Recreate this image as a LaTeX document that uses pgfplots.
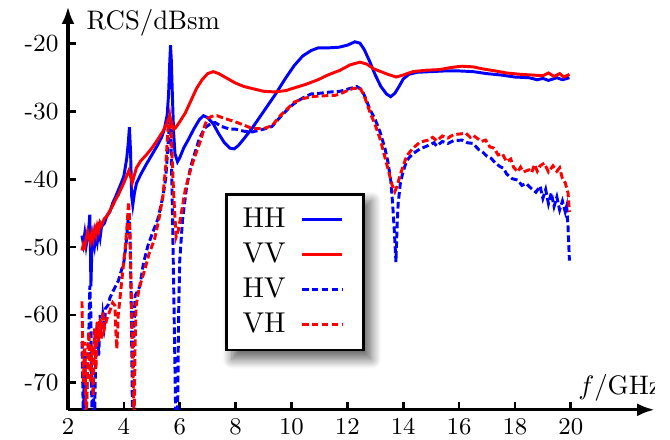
\documentclass[border=0pt]{standalone}
\usepackage{pgfplots}
\pgfplotsset{compat=1.18}
\usetikzlibrary{arrows.meta,shadows.blur}
\pgfdeclarelayer{background}
\pgfsetlayers{background,main}

\pgfplotstableread{
f rcs
2.50 -48.3
2.55 -49.5
2.60 -48.0
2.65 -49.8
2.70 -48.5
2.75 -47.0
2.78 -45.2
2.80 -49.0
2.82 -55.8
2.85 -51.0
2.90 -48.5
2.95 -49.8
3.00 -48.0
3.05 -49.2
3.10 -47.5
3.15 -48.6
3.20 -47.0
3.30 -46.5
3.40 -45.3
3.50 -44.8
3.60 -43.5
3.70 -42.6
3.80 -41.6
3.90 -40.6
4.00 -39.5
4.10 -37.0
4.15 -35.0
4.20 -32.3
4.24 -36.0
4.28 -42.5
4.32 -43.8
4.38 -42.0
4.45 -40.6
4.60 -39.3
4.80 -37.8
5.00 -36.4
5.20 -35.0
5.35 -33.8
5.45 -32.6
5.55 -30.5
5.60 -27.5
5.64 -23.0
5.67 -20.2
5.70 -22.5
5.74 -28.0
5.78 -33.0
5.83 -36.2
5.92 -37.4
6.00 -36.8
6.15 -35.3
6.30 -34.2
6.50 -32.6
6.70 -31.2
6.85 -30.6
7.00 -30.9
7.20 -31.8
7.40 -33.3
7.60 -34.6
7.80 -35.4
7.95 -35.5
8.10 -35.0
8.30 -34.0
8.60 -32.4
9.00 -30.0
9.40 -27.6
9.80 -25.0
10.10 -23.2
10.40 -21.8
10.70 -21.0
10.95 -20.6
11.30 -20.6
11.70 -20.5
12.00 -20.2
12.27 -19.7
12.45 -19.9
12.60 -20.8
12.80 -22.6
13.00 -24.6
13.20 -26.3
13.40 -27.4
13.55 -27.8
13.70 -27.3
13.85 -26.3
14.00 -25.2
14.20 -24.5
14.50 -24.2
15.00 -24.1
15.50 -24.0
16.00 -24.0
16.50 -24.1
17.00 -24.4
17.50 -24.6
18.00 -24.9
18.50 -25.0
18.80 -25.3
19.00 -25.1
19.20 -25.4
19.50 -25.0
19.70 -25.3
19.95 -25.0
}\hh

\pgfplotstableread{
f rcs
2.50 -50.5
2.55 -49.6
2.60 -50.0
2.65 -48.8
2.70 -47.7
2.75 -48.5
2.80 -49.2
2.85 -48.0
2.90 -48.8
2.95 -47.4
3.00 -48.2
3.05 -46.9
3.10 -47.6
3.15 -46.4
3.20 -46.8
3.30 -45.8
3.40 -45.4
3.50 -44.6
3.60 -43.9
3.70 -43.0
3.80 -42.3
3.90 -41.4
4.00 -40.5
4.10 -39.5
4.18 -38.7
4.24 -39.5
4.30 -40.5
4.36 -39.6
4.45 -38.3
4.60 -37.3
4.80 -36.4
5.00 -35.4
5.20 -34.2
5.40 -32.9
5.55 -31.6
5.64 -30.7
5.70 -31.5
5.78 -32.6
5.85 -32.4
6.00 -31.5
6.20 -30.2
6.40 -28.4
6.60 -26.6
6.80 -25.3
7.00 -24.4
7.20 -24.1
7.40 -24.4
7.70 -25.1
8.00 -25.8
8.30 -26.3
8.60 -26.6
9.00 -27.0
9.40 -27.1
9.80 -26.9
10.10 -26.5
10.50 -26.0
10.95 -25.3
11.30 -24.6
11.74 -23.9
12.10 -23.1
12.45 -22.7
12.70 -23.0
12.95 -23.7
13.20 -24.1
13.45 -24.5
13.75 -24.9
14.00 -24.6
14.35 -24.1
14.80 -23.9
15.30 -23.8
15.70 -23.5
16.10 -23.3
16.50 -23.4
16.85 -23.7
17.30 -24.0
17.70 -24.3
18.20 -24.5
18.60 -24.6
19.00 -24.7
19.20 -24.3
19.40 -24.8
19.60 -24.4
19.75 -24.9
19.95 -24.5
}\vv

\pgfplotstableread{
f rcs
2.50 -64.0
2.55 -75.0
2.60 -66.0
2.65 -76.0
2.70 -68.0
2.75 -62.0
2.78 -55.7
2.82 -60.0
2.86 -76.0
2.90 -70.0
2.95 -76.0
3.00 -64.0
3.05 -61.0
3.10 -66.0
3.15 -60.0
3.20 -63.0
3.25 -60.0
3.30 -61.5
3.35 -59.0
3.43 -58.6
3.50 -57.5
3.60 -56.6
3.70 -55.8
3.80 -55.0
3.90 -53.6
4.00 -52.2
4.08 -49.5
4.15 -46.0
4.19 -45.0
4.23 -50.0
4.27 -60.0
4.31 -76.0
4.36 -62.0
4.40 -57.2
4.50 -56.4
4.57 -55.8
4.70 -52.4
4.86 -49.8
5.00 -48.2
5.22 -45.8
5.40 -42.5
5.50 -39.8
5.58 -35.0
5.64 -31.5
5.68 -33.0
5.74 -45.0
5.80 -60.0
5.86 -76.0
5.92 -76.0
5.96 -60.0
6.00 -52.0
6.10 -46.0
6.25 -41.0
6.40 -38.0
6.55 -36.0
6.70 -34.0
6.90 -32.4
7.10 -31.8
7.26 -31.6
7.50 -32.2
7.80 -32.6
8.00 -32.6
8.30 -32.9
8.60 -33.0
9.00 -32.6
9.30 -32.2
9.60 -30.8
9.90 -29.5
10.10 -28.8
10.40 -28.0
10.70 -27.4
11.00 -27.3
11.40 -27.1
11.74 -27.0
12.00 -26.7
12.34 -26.3
12.52 -26.8
12.65 -28.0
12.80 -29.6
13.00 -31.2
13.17 -33.0
13.35 -35.5
13.45 -37.4
13.55 -40.0
13.62 -43.5
13.68 -47.5
13.74 -52.2
13.78 -47.0
13.82 -43.5
13.90 -40.5
13.97 -39.3
14.07 -37.9
14.17 -37.0
14.35 -36.2
14.60 -35.5
14.90 -35.0
15.10 -34.6
15.20 -35.1
15.40 -34.4
15.60 -34.7
15.80 -34.3
16.10 -34.2
16.30 -34.6
16.50 -34.7
16.70 -35.6
16.85 -36.0
17.00 -36.6
17.15 -36.9
17.30 -37.6
17.46 -38.1
17.60 -38.4
17.70 -39.2
17.90 -39.9
18.10 -40.1
18.25 -40.9
18.40 -40.6
18.60 -41.4
18.75 -41.9
18.90 -41.0
19.00 -42.8
19.10 -41.5
19.20 -43.6
19.30 -42.0
19.40 -44.0
19.50 -42.6
19.60 -44.5
19.70 -43.2
19.80 -44.8
19.85 -44.0
19.90 -47.0
19.95 -52.0
}\hv

\pgfplotstableread{
f rcs
2.50 -58.0
2.55 -70.0
2.60 -64.0
2.65 -76.0
2.70 -66.0
2.75 -62.5
2.80 -70.0
2.85 -64.5
2.90 -72.0
2.95 -62.0
3.00 -68.0
3.05 -61.0
3.10 -64.0
3.15 -60.5
3.20 -63.5
3.25 -59.5
3.30 -62.0
3.40 -60.5
3.50 -59.4
3.60 -58.2
3.68 -58.6
3.72 -63.0
3.75 -65.0
3.80 -60.0
3.90 -56.0
3.97 -53.2
4.05 -50.0
4.12 -46.5
4.17 -43.3
4.22 -48.0
4.27 -58.0
4.32 -68.0
4.37 -76.0
4.40 -65.0
4.44 -58.6
4.55 -56.0
4.76 -53.2
4.90 -51.0
5.10 -48.8
5.25 -46.0
5.40 -42.4
5.50 -38.0
5.58 -32.5
5.64 -30.8
5.70 -33.5
5.78 -42.0
5.87 -48.5
5.95 -47.5
6.04 -45.4
6.20 -41.5
6.40 -38.4
6.55 -36.5
6.77 -34.0
6.90 -32.0
7.00 -31.0
7.15 -30.7
7.33 -30.6
7.60 -31.0
7.98 -31.5
8.30 -32.0
8.60 -32.5
9.00 -32.5
9.30 -32.1
9.60 -30.6
9.90 -29.4
10.10 -28.6
10.40 -28.1
10.70 -27.8
11.00 -27.7
11.56 -27.6
11.74 -27.4
12.00 -26.9
12.20 -26.6
12.45 -26.5
12.60 -27.6
12.80 -30.0
13.00 -32.0
13.17 -34.0
13.30 -36.0
13.45 -38.4
13.60 -40.8
13.70 -41.8
13.78 -41.0
13.88 -39.5
14.00 -38.0
14.13 -36.5
14.35 -35.4
14.60 -34.5
14.90 -34.2
15.05 -33.8
15.20 -34.3
15.40 -33.6
15.60 -33.9
15.80 -33.4
16.03 -33.3
16.25 -33.2
16.40 -33.8
16.50 -33.5
16.80 -34.4
16.95 -34.2
17.10 -35.2
17.25 -35.4
17.40 -36.4
17.55 -36.2
17.70 -37.4
17.85 -37.0
17.95 -38.2
18.10 -38.9
18.20 -38.2
18.30 -38.9
18.50 -38.6
18.60 -39.0
18.70 -37.8
18.80 -38.8
18.90 -38.0
19.05 -37.6
19.20 -38.9
19.36 -38.0
19.50 -38.8
19.60 -38.3
19.70 -39.9
19.80 -40.5
19.90 -42.0
19.95 -44.8
}\vh

\begin{document}
\begin{tikzpicture}
\begin{axis}[
    x=10.43pt, y=2.53pt,
    xmin=2, xmax=23,
    ymin=-74, ymax=-14.5,
    axis lines=left,
    axis line style={line width=1.2pt, -{Latex[length=6.5pt,width=4.8pt]}},
    xtick={2,4,...,20},
    ytick={-70,-60,-50,-40,-30,-20},
    yticklabels={-70,-60,-50,-40,-30,-20},
    tick align=inside,
    major tick length=3pt,
    tick style={line width=1pt, black},
    tick label style={font=\fontsize{9.2}{11}\selectfont},
    legend plot pos=right,
    legend cell align=left,
    legend image code/.code={
        \draw[#1] (0pt,0pt) -- (15pt,0pt);
        \path (18.5pt,0pt);
    },
    legend style={
        name=leg,
        at={(axis cs:7.63,-42)}, anchor=north west,
        draw=black, line width=1pt, fill=white,
        font=\fontsize{10.7}{12.5}\selectfont,
        inner xsep=4pt, inner ysep=3pt,
        row sep=0.3pt,
        /tikz/every odd column/.append style={column sep=3.5pt},
    },
    every axis plot/.append style={line width=1.1pt},
]
\addplot[blue, no marks] table[x=f, y=rcs] {\hh};
\addlegendentry{HH}
\addplot[red, no marks] table[x=f, y=rcs] {\vv};
\addlegendentry{VV}
\addplot[blue, no marks, dash pattern=on 2.5pt off 1.2pt] table[x=f, y=rcs] {\hv};
\addlegendentry{HV}
\addplot[red, no marks, dash pattern=on 2.5pt off 1.2pt] table[x=f, y=rcs] {\vh};
\addlegendentry{VH}

\node[anchor=base west, font=\fontsize{10}{12}\selectfont, inner sep=0pt] at (axis cs:2.65,-17.9) {RCS/dBsm};
\node[anchor=base west, font=\fontsize{10}{12}\selectfont, inner sep=0pt] at (axis cs:20.25,-71.8) {$f$/GHz};
\coordinate (bl) at (axis cs:-0.434,-78.42);
\coordinate (tr) at (axis cs:23.55,-13.53);
\end{axis}
\begin{pgfonlayer}{background}
\path[blur shadow={shadow xshift=2.5pt, shadow yshift=-3pt, shadow blur steps=10, shadow opacity=60, shadow blur radius=3.5pt}]
    (leg.south west) rectangle (leg.north east);
\end{pgfonlayer}
\pgfresetboundingbox
\path (bl) rectangle (tr);
\end{tikzpicture}
\end{document}
